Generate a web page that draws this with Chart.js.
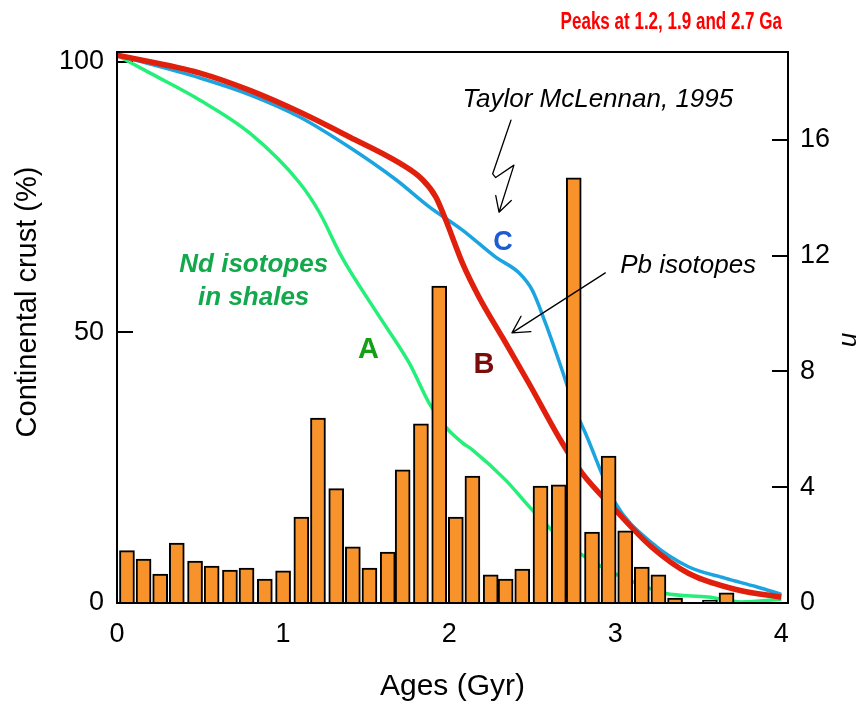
<!DOCTYPE html>
<html>
<head>
<meta charset="utf-8">
<script src="https://cdn.jsdelivr.net/npm/chart.js@4.4.1/dist/chart.umd.min.js"></script>
<style>
	html, body { margin: 0; padding: 0; background: #fff; }
	#wrap { width: 858px; height: 705px; }
</style>
</head>
<body>
<div id="wrap"><canvas id="chart"></canvas></div>
<script>
const FONT = "'Liberation Sans', Arial, Helvetica, sans-serif";

// histogram of ages (right axis, n)
const binAges = [0.06, 0.16, 0.26, 0.36, 0.47, 0.57, 0.68, 0.78, 0.89, 1.0, 1.11, 1.21, 1.32, 1.42, 1.52, 1.63, 1.72, 1.83, 1.94, 2.04, 2.14, 2.25, 2.34, 2.44, 2.55, 2.66, 2.75, 2.86, 2.96, 3.06, 3.16, 3.26, 3.36, 3.57, 3.67];
const binCounts = [1.81, 1.52, 1.0, 2.07, 1.45, 1.28, 1.14, 1.21, 0.83, 1.11, 2.97, 6.39, 3.95, 1.94, 1.21, 1.76, 4.6, 6.19, 10.95, 2.97, 4.39, 0.97, 0.83, 1.17, 4.04, 4.08, 14.69, 2.45, 5.08, 2.49, 1.24, 0.97, 0.17, 0.1, 0.35];

// curve A - Nd isotopes in shales
const ageA = [0, 0.2, 0.5, 0.8, 1.1, 1.22, 1.34, 1.4, 1.58, 1.76, 1.88, 1.98, 2.08, 2.14, 2.34, 2.5, 2.7, 2.9, 3.1, 3.3, 3.56, 3.76, 4.0];
const crustA = [101.2, 97.9, 92.9, 86.8, 77.6, 72.1, 64.7, 61.5, 52.9, 44.3, 36.9, 32.5, 29.6, 28.3, 22.7, 17.2, 11.1, 7.0, 4.0, 1.8, 1.1, 0.2, 0.7];

// curve B - Pb isotopes
const ageB = [0, 0.5, 0.8, 1.1, 1.4, 1.7, 1.84, 1.92, 1.98, 2.08, 2.18, 2.32, 2.48, 2.68, 2.8, 3.0, 3.22, 3.44, 3.74, 4.0];
const crustB = [101.2, 97.9, 94.7, 90.7, 86.1, 81.3, 78.2, 75.0, 70.7, 62.8, 56.5, 49.1, 40.6, 29.6, 24.0, 17.2, 10.3, 5.5, 2.4, 1.1];

// curve C - Taylor McLennan, 1995
const ageC = [0, 0.5, 0.8, 1.1, 1.4, 1.68, 1.88, 2.08, 2.28, 2.42, 2.5, 2.58, 2.68, 2.76, 2.82, 3.0, 3.22, 3.44, 3.66, 3.85, 4.0];
const crustC = [101.2, 97.0, 93.9, 89.8, 84.2, 78.2, 73.2, 68.9, 63.9, 61.0, 57.8, 51.7, 43.0, 35.6, 31.4, 18.5, 11.1, 6.7, 4.6, 3.0, 1.6];

const xTicks = [0, 1, 2, 3, 4];
const leftTicks = [0, 50, 100];
const rightTicks = [0, 4, 8, 12, 16];

const pts = (xs, ys) => xs.map((x, i) => ({ x, y: ys[i] }));

// text notes placed in data units (age, % crust)
const notes = [
	{ text: "Taylor McLennan, 1995", age: 2.08, pct: 91.6, font: "italic 26px", color: "#000", align: "left" },
	{ text: "C", age: 2.324, pct: 65.2, font: "bold 27px", color: "#1c5bd1", align: "center" },
	{ text: "Pb isotopes", age: 3.03, pct: 61.0, font: "italic 26px", color: "#000", align: "left" },
	{ text: "B", age: 2.21, pct: 42.5, font: "bold 29px", color: "#7a0c0c", align: "center" },
	{ text: "A", age: 1.514, pct: 45.3, font: "bold 29px", color: "#14a014", align: "center" },
	{ text: "Nd isotopes", age: 0.823, pct: 61.2, font: "bold italic 26px", color: "#13a84c", align: "center" },
	{ text: "in shales", age: 0.823, pct: 55.1, font: "bold italic 26px", color: "#13a84c", align: "center" },
];

// squiggle arrow to curve C, and straight arrow to curve B
const squiggle = [[2.372, 89.2], [2.262, 79.3], [2.28, 78.6], [2.39, 80.9], [2.3, 72.2]];
const pbArrow = [[2.94, 61.0], [2.378, 49.9]];

function arrowHead(ctx, tip, from, len, spread) {
	const ang = Math.atan2(from[1] - tip[1], from[0] - tip[0]);
	ctx.moveTo(tip[0] + len * Math.cos(ang - spread), tip[1] + len * Math.sin(ang - spread));
	ctx.lineTo(tip[0], tip[1]);
	ctx.lineTo(tip[0] + len * Math.cos(ang + spread), tip[1] + len * Math.sin(ang + spread));
}

const decorations = {
	id: "decorations",
	beforeDatasetsDraw(chart) {
		const { ctx, chartArea: a, scales } = chart;
		ctx.save();
		ctx.strokeStyle = "#000";
		ctx.lineWidth = 2;
		ctx.beginPath();
		leftTicks.forEach((v) => {
			const y = Math.round(scales.y.getPixelForValue(v));
			ctx.moveTo(a.left, y);
			ctx.lineTo(a.left + 16, y);
		});
		rightTicks.forEach((v) => {
			const y = Math.round(scales.n.getPixelForValue(v));
			ctx.moveTo(a.right - 16, y);
			ctx.lineTo(a.right, y);
		});
		ctx.stroke();
		ctx.restore();
	},
	afterDatasetsDraw(chart) {
		const { ctx, chartArea: a, scales } = chart;
		const px = (p) => [scales.x.getPixelForValue(p[0]), scales.y.getPixelForValue(p[1])];
		ctx.save();

		// plot frame
		ctx.strokeStyle = "#000";
		ctx.lineWidth = 2;
		ctx.strokeRect(a.left, a.top, a.right - a.left, a.bottom - a.top);

		// notes
		notes.forEach((n) => {
			ctx.font = n.font + " " + FONT;
			ctx.fillStyle = n.color;
			ctx.textAlign = n.align;
			ctx.textBaseline = "alphabetic";
			ctx.fillText(n.text, scales.x.getPixelForValue(n.age), scales.y.getPixelForValue(n.pct));
		});

		// arrows
		ctx.lineWidth = 1.3;
		ctx.lineJoin = "round";
		ctx.lineCap = "round";
		ctx.beginPath();
		const sq = squiggle.map(px);
		ctx.moveTo(sq[0][0], sq[0][1]);
		sq.slice(1).forEach((p) => ctx.lineTo(p[0], p[1]));
		arrowHead(ctx, sq[sq.length - 1], sq[sq.length - 2], 17, 0.5);
		const pb = pbArrow.map(px);
		ctx.moveTo(pb[0][0], pb[0][1]);
		ctx.lineTo(pb[1][0], pb[1][1]);
		arrowHead(ctx, pb[1], pb[0], 19, 0.5);
		ctx.stroke();

		// left axis title
		ctx.fillStyle = "#000";
		ctx.font = "29px " + FONT;
		ctx.textAlign = "center";
		ctx.textBaseline = "alphabetic";
		ctx.save();
		ctx.translate(36, 302);
		ctx.rotate(-Math.PI / 2);
		ctx.fillText("Continental crust (%)", 0, 0);
		ctx.restore();

		// right axis title
		ctx.font = "italic 26px " + FONT;
		ctx.save();
		ctx.translate(842, 340);
		ctx.rotate(Math.PI / 2);
		ctx.fillText("n", 0, 0);
		ctx.restore();

		// headline (condensed bold)
		ctx.fillStyle = "#ff0000";
		ctx.font = "bold 23px " + FONT;
		ctx.textAlign = "right";
		ctx.save();
		ctx.translate(782, 29);
		ctx.scale(0.74, 1);
		ctx.fillText("Peaks at 1.2, 1.9 and 2.7 Ga", 0, 0);
		ctx.restore();

		ctx.restore();
	},
};

const tickFont = { family: FONT, size: 27 };

new Chart(document.getElementById("chart"), {
	type: "bar",
	data: {
		datasets: [
			{
				type: "bar",
				label: "n",
				data: pts(binAges, binCounts),
				xAxisID: "x",
				yAxisID: "n",
				backgroundColor: "#f8922b",
				borderColor: "#000",
				borderWidth: 2,
				barThickness: 15,
				order: 0,
			},
			{
				type: "line",
				label: "B",
				data: pts(ageB, crustB),
				yAxisID: "y",
				borderColor: "#e0200c",
				borderWidth: 5.5,
				pointRadius: 0,
				cubicInterpolationMode: "monotone",
				order: 1,
			},
			{
				type: "line",
				label: "C",
				data: pts(ageC, crustC),
				yAxisID: "y",
				borderColor: "#1ba4e0",
				borderWidth: 3.5,
				pointRadius: 0,
				cubicInterpolationMode: "monotone",
				order: 2,
			},
			{
				type: "line",
				label: "A",
				data: pts(ageA, crustA),
				yAxisID: "y",
				borderColor: "#24ef78",
				borderWidth: 3.5,
				pointRadius: 0,
				cubicInterpolationMode: "monotone",
				order: 3,
			},
		],
	},
	options: {
		responsive: true,
		maintainAspectRatio: false,
		animation: false,
		layout: { padding: { top: 52 } },
		plugins: {
			legend: { display: false },
			tooltip: { enabled: false },
		},
		scales: {
			x: {
				type: "linear",
				min: 0,
				max: 4.04,
				offset: false,
				grid: { display: false, drawTicks: false },
				border: { display: false },
				ticks: { padding: 15, font: tickFont, color: "#000" },
				afterBuildTicks: (s) => { s.ticks = xTicks.map((v) => ({ value: v })); },
				afterFit: (s) => { s.height = 102; },
				title: { display: true, text: "Ages (Gyr)", font: { family: FONT, size: 30 }, color: "#000", padding: 0 },
			},
			y: {
				type: "linear",
				position: "left",
				min: 0,
				max: 101.8,
				grid: { display: false, drawTicks: false },
				border: { display: false },
				ticks: { padding: 13, font: tickFont, color: "#000" },
				afterBuildTicks: (s) => { s.ticks = leftTicks.map((v) => ({ value: v })); },
				afterFit: (s) => { s.width = 117; },
			},
			n: {
				type: "linear",
				position: "right",
				min: 0,
				max: 19.04,
				grid: { display: false, drawTicks: false },
				border: { display: false },
				ticks: { padding: 12, font: tickFont, color: "#000" },
				afterBuildTicks: (s) => { s.ticks = rightTicks.map((v) => ({ value: v })); },
				afterFit: (s) => { s.width = 70; },
			},
		},
	},
	plugins: [decorations],
});
</script>
</body>
</html>
